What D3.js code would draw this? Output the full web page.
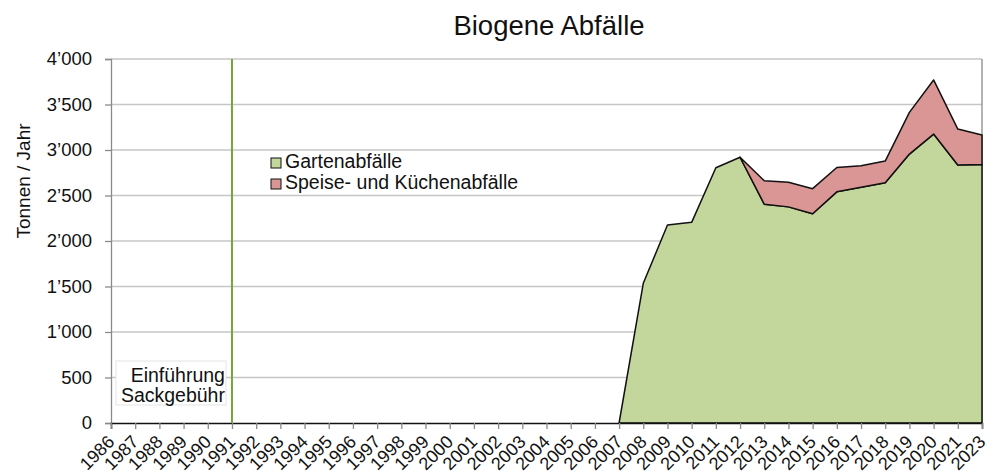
<!DOCTYPE html>
<html>
<head>
<meta charset="utf-8">
<script src="https://cdn.jsdelivr.net/npm/d3@7"></script>
<style>
  body { margin: 0; background: #fff; }
  svg { font-family: "Liberation Sans", Arial, sans-serif; }
</style>
</head>
<body>
<div id="chart"></div>
<script>
// Category years (2022 is not on the axis)
const years = d3.range(1986, 2022).map(String).concat(['2023']);

// Gartenabfälle (t/yr), 2007 onward; earlier years are 0
const gartenYears = ['2007', '2008', '2009', '2010', '2011', '2012', '2013', '2014', '2015',
  '2016', '2017', '2018', '2019', '2020', '2021', '2023'];
const gartenValues = [0, 1535, 2175, 2205, 2805, 2920, 2405, 2375, 2300,
  2540, 2590, 2640, 2955, 3175, 2835, 2840];

// Speise- und Küchenabfälle (t/yr), 2012 onward
const speiseYears = ['2012', '2013', '2014', '2015', '2016', '2017', '2018', '2019', '2020', '2021', '2023'];
const speiseValues = [0, 258, 270, 275, 268, 238, 238, 458, 595, 395, 325];

const yTicks = [0, 500, 1000, 1500, 2000, 2500, 3000, 3500, 4000];
const seriesNames = ['Gartenabfälle', 'Speise- und Küchenabfälle'];
const seriesColours = ['#c3d69b', '#d99694'];
const markerYear = '1991';

const width = 999;
const height = 476;
const margin = { top: 59, right: 17, bottom: 53, left: 111 };

const svg = d3.select('#chart')
  .append('svg')
  .attr('width', width)
  .attr('height', height);

// Scales
const x = d3.scalePoint().domain(years).range([margin.left, width - margin.right]);
const y = d3.scaleLinear().domain([0, 4000]).range([height - margin.bottom, margin.top]);

const locale = d3.formatLocale({ decimal: '.', thousands: '\u2019', grouping: [3], currency: ['', ''] });
const fmt = locale.format(',d');

// Build table for the stack
const table = years.map((yr) => {
  const gi = gartenYears.indexOf(yr);
  const si = speiseYears.indexOf(yr);
  return {
    year: yr,
    garten: gi >= 0 ? gartenValues[gi] : 0,
    speise: si >= 0 ? speiseValues[si] : 0,
  };
});

const stack = d3.stack().keys(['garten', 'speise']);
const layers = stack(table);

// Gridlines
svg.append('g')
  .selectAll('line')
  .data(yTicks.filter(d => d > 0))
  .enter().append('line')
  .attr('x1', margin.left)
  .attr('x2', width - margin.right)
  .attr('y1', d => y(d))
  .attr('y2', d => y(d))
  .attr('stroke', '#c6c6c6')
  .attr('stroke-width', 1.3);

// Right border
svg.append('line')
  .attr('x1', width - margin.right)
  .attr('x2', width - margin.right)
  .attr('y1', y(4000))
  .attr('y2', y(0))
  .attr('stroke', '#8a8a8a')
  .attr('stroke-width', 1.3);

// Stacked areas
const area = d3.area()
  .x(d => x(d.data.year))
  .y0(d => y(d[0]))
  .y1(d => y(d[1]));

const visibleFrom = ['2007', '2012'];
svg.append('g')
  .selectAll('path')
  .data(layers)
  .enter().append('path')
  .attr('d', (layer, i) => area(layer.filter(d => +d.data.year >= +visibleFrom[i])))
  .attr('fill', (d, i) => seriesColours[i])
  .attr('stroke', '#111')
  .attr('stroke-width', 1.5)
  .attr('stroke-linejoin', 'round');

// Y axis
const yAxis = svg.append('g')
  .attr('transform', `translate(${margin.left},0)`)
  .call(d3.axisLeft(y).tickValues(yTicks).tickFormat(fmt).tickSizeOuter(0).tickSize(6).tickPadding(13));
yAxis.select('.domain').attr('stroke', '#8a8a8a').attr('stroke-width', 1.3);
yAxis.selectAll('.tick line').attr('stroke', '#8a8a8a').attr('stroke-width', 1.3);
yAxis.selectAll('text')
  .attr('font-size', '18.5px')
  .attr('fill', '#111')
  .attr('font-family', '"Liberation Sans", Arial, sans-serif');

// X axis
const xAxis = svg.append('g')
  .attr('transform', `translate(0,${height - margin.bottom})`)
  .call(d3.axisBottom(x).tickSizeOuter(0).tickSize(6));
xAxis.select('.domain').attr('stroke', '#111').attr('stroke-width', 1.5);
xAxis.selectAll('.tick line').attr('stroke', '#8a8a8a').attr('stroke-width', 1.3);
xAxis.selectAll('text')
  .attr('font-size', '18px')
  .attr('fill', '#111')
  .attr('font-family', '"Liberation Sans", Arial, sans-serif')
  .attr('text-anchor', 'end')
  .attr('dy', null)
  .attr('y', 0)
  .attr('transform', 'translate(4,20) rotate(-45)');

// Marker line (Einführung Sackgebühr)
svg.append('line')
  .attr('x1', x(markerYear))
  .attr('x2', x(markerYear))
  .attr('y1', y(4000))
  .attr('y2', y(0))
  .attr('stroke', '#77a33a')
  .attr('stroke-width', 2);

// Annotation box
svg.append('rect')
  .attr('x', margin.left + 5)
  .attr('y', 361)
  .attr('width', 110)
  .attr('height', 44)
  .attr('fill', '#fff')
  .attr('stroke', '#e4e4e4')
  .attr('stroke-width', 1);
svg.append('text')
  .attr('x', x(markerYear) - 7)
  .attr('y', 382)
  .attr('text-anchor', 'end')
  .attr('font-size', '19.5px')
  .attr('fill', '#111')
  .text('Einführung');
svg.append('text')
  .attr('x', x(markerYear) - 7)
  .attr('y', 402)
  .attr('text-anchor', 'end')
  .attr('font-size', '19.5px')
  .attr('fill', '#111')
  .text('Sackgebühr');

// Title
svg.append('text')
  .attr('x', 549)
  .attr('y', 35)
  .attr('text-anchor', 'middle')
  .attr('font-size', '27.5px')
  .attr('fill', '#111')
  .text('Biogene Abfälle');

// Y label
svg.append('text')
  .attr('transform', 'translate(30,181) rotate(-90)')
  .attr('text-anchor', 'middle')
  .attr('font-size', '19px')
  .attr('fill', '#111')
  .text('Tonnen / Jahr');

// Legend
const legend = svg.append('g').attr('transform', 'translate(271,158)');
const legendItems = legend.selectAll('g')
  .data(seriesNames)
  .enter().append('g')
  .attr('transform', (d, i) => `translate(0,${i * 21})`);
legendItems.append('rect')
  .attr('width', 10)
  .attr('height', 10)
  .attr('fill', (d, i) => seriesColours[i])
  .attr('stroke', '#111')
  .attr('stroke-width', 1);
legendItems.append('text')
  .attr('x', 14)
  .attr('y', 10)
  .attr('font-size', '19.5px')
  .attr('fill', '#111')
  .text(d => d);
</script>
</body>
</html>
